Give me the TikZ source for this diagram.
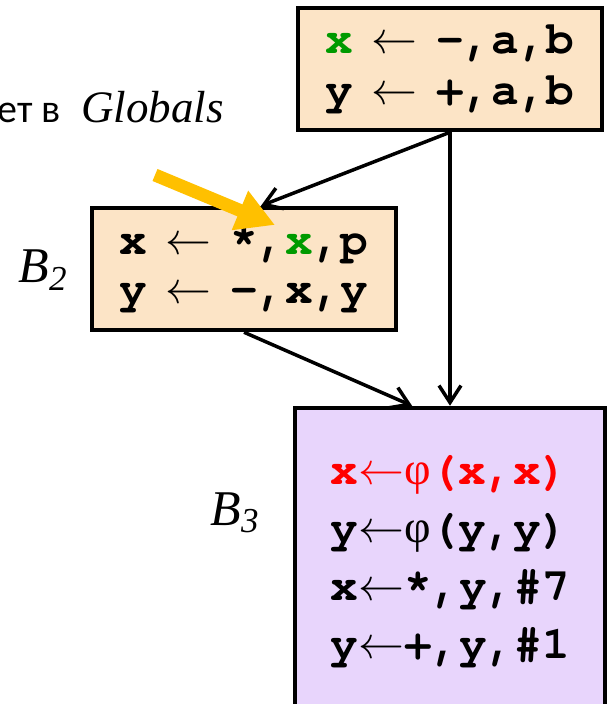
\documentclass[tikz,border=0pt]{standalone}
\usepackage{fontspec}
\setmainfont{Liberation Serif}
\setmonofont{texgyrecursor-regular.otf}[BoldFont=texgyrecursor-bold.otf]
\newfontfamily\cyrsans{Carlito}
\newfontfamily\arrfont{latinmodern-math.otf}
\usetikzlibrary{arrows.meta}
\definecolor{blkfill}{HTML}{FCE4C6}
\definecolor{phifill}{HTML}{E8D5FC}
\definecolor{defgreen}{HTML}{009A00}
\definecolor{phired}{HTML}{FF0000}
\definecolor{hintyellow}{HTML}{FFC000}
\newcommand{\arr}{{\arrfont ←}}
\newcommand{\phisym}{{\rmfamily\mdseries φ}}
\newcommand{\gap}{\hspace{0.4em}}

\begin{document}
\begin{tikzpicture}[x=0.5pt, y=-0.5pt,
  blk/.style={rectangle, draw=black, line width=2.25pt, fill=blkfill,
              minimum width=152pt, minimum height=61pt, align=left, inner sep=0pt,
              font=\fontsize{23}{25.5}\selectfont\ttfamily\bfseries},
  phiblk/.style={blk, fill=phifill, minimum width=155pt, minimum height=154pt,
              font=\fontsize{23}{29}\selectfont\ttfamily\bfseries},
  blab/.style={font=\fontsize{25}{25}\selectfont\itshape},
  conn/.style={draw=black, line width=1.75pt, -{Straight Barb[length=8.5pt, width=11pt]}},
  hint/.style={draw=hintyellow, line width=6.5pt, -{Triangle[length=19pt, width=20pt]}},
]
\useasboundingbox (0,0) rectangle (609,704);
% ================= basic blocks =================
\node[blk] (b1) at (450, 69) {\textcolor{defgreen}{x}\gap\arr\gap-,a,b\\y\gap\arr\gap+,a,b};
\node[blk, font=\fontsize{23}{24.5}\selectfont\ttfamily\bfseries] (b2) at (244, 269)
      {x\gap\arr\gap*,\textcolor{defgreen}{x},p\\y\gap\arr\gap-,x,y};
\node[phiblk] (b3) at (450, 562)
      {\textcolor{phired}{x\arr\phisym(x,x)}\\y\arr\phisym(y,y)\\x\arr*,y,\#7\\y\arr+,y,\#1};
% block labels
\node[blab] (l2) at (43, 270) {B\textsubscript{2}};
\node[blab] (l3) at (235, 513) {B\textsubscript{3}};
% cut-off caption
\node[anchor=base east, inner sep=0pt] (glob) at (224, 123)
      {{\cyrsans\fontsize{20}{22}\selectfont ет в}\hspace{10pt}{\fontsize{22.5}{24}\selectfont\itshape Globals}};
% ================= edges =================
\draw[conn] (b1.south) -- ([xshift=8.5pt]b2.north);
\draw[conn] (b1.south) -- (b1.south |- b3.north);
\draw[conn] (b2.south) -- ([xshift=-19pt]b3.north);
% highlight arrow
\coordinate (hintfrom) at (155, 175);
\coordinate (hintto) at (275, 225);
\draw[hint] (hintfrom) -- (hintto);
\end{tikzpicture}
\end{document}
